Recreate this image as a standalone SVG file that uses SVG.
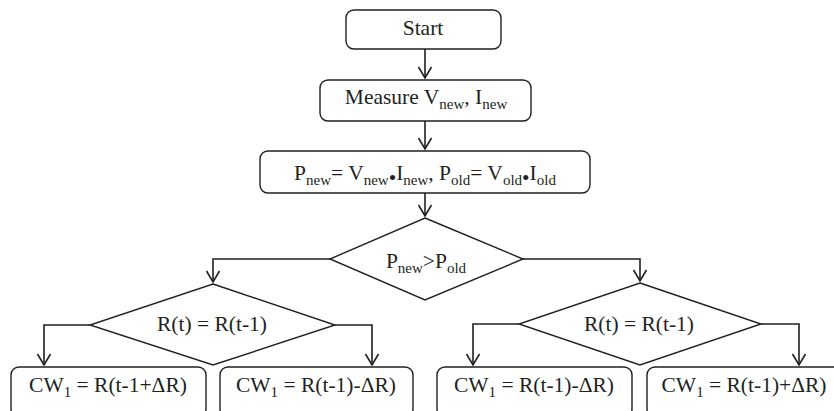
<svg xmlns="http://www.w3.org/2000/svg" width="834" height="411" viewBox="0 0 834 411">
<defs>
<style>
.box{fill:#fff;stroke:#231f20;stroke-width:1.4}
.dia{fill:#fff;stroke:#231f20;stroke-width:1.4}
.con{fill:none;stroke:#231f20;stroke-width:1.6;marker-end:url(#arr)}
text{font-family:"Liberation Serif","Times New Roman",serif;font-size:21.5px;fill:#231f20;text-anchor:middle}
.s{font-size:15px}
</style>
<marker id="arr" markerUnits="userSpaceOnUse" markerWidth="14" markerHeight="16" viewBox="-12 -8 14 16" refX="0" refY="0" orient="auto">
<path d="M-11,-6.5 L0,0 L-11,6.5" fill="none" stroke="#231f20" stroke-width="1.6"/>
</marker>
</defs>
<rect width="834" height="411" fill="#fff"/>
<g id="connectors">
<path class="con" d="M425,49 V78"/>
<path class="con" d="M425,121 V149"/>
<path class="con" d="M425,193 V216"/>
<path class="con" d="M330,259 H213 V282"/>
<path class="con" d="M523,259 H640 V281"/>
<path class="con" d="M90,325 H44 V365"/>
<path class="con" d="M335,325 H372 V365"/>
<path class="con" d="M519,324 H473 V365"/>
<path class="con" d="M761,324 H799 V365"/>
</g>
<g id="start">
<rect class="box" x="346" y="10" width="155" height="39" rx="8"/>
<text x="423" y="35">Start</text>
</g>
<g id="measure">
<rect class="box" x="320" y="80" width="211" height="41" rx="8"/>
<text x="426" y="104">Measure V<tspan class="s" dy="5">new</tspan><tspan dy="-5">, I</tspan><tspan class="s" dy="5">new</tspan></text>
</g>
<g id="power">
<rect class="box" x="260" y="151" width="330" height="42" rx="8"/>
<text x="425" y="180">P<tspan class="s" dy="5">new</tspan><tspan dy="-5">= V</tspan><tspan class="s" dy="5">new</tspan><tspan dy="0">•</tspan><tspan dy="-5">I</tspan><tspan class="s" dy="5">new</tspan><tspan dy="-5">, P</tspan><tspan class="s" dy="5">old</tspan><tspan dy="-5">= V</tspan><tspan class="s" dy="5">old</tspan><tspan dy="0">•</tspan><tspan dy="-5">I</tspan><tspan class="s" dy="5">old</tspan></text>
</g>
<g id="compare">
<polygon class="dia" points="425,218 523,259 425,300 330,259"/>
<text x="426" y="268">P<tspan class="s" dy="5">new</tspan><tspan dy="-5">&gt;P</tspan><tspan class="s" dy="5">old</tspan></text>
</g>
<g id="decision-left">
<polygon class="dia" points="213,284 335,325 213,365 90,325"/>
<text x="212" y="331">R(t) = R(t-1)</text>
</g>
<g id="decision-right">
<polygon class="dia" points="640,283 761,324 640,365 519,324"/>
<text x="639" y="331">R(t) = R(t-1)</text>
</g>
<g id="cw1">
<rect class="box" x="11" y="367" width="195" height="50" rx="8"/>
<text x="108" y="392">CW<tspan class="s" dy="5">1</tspan><tspan dy="-5"> = R(t-1+ΔR)</tspan></text>
</g>
<g id="cw2">
<rect class="box" x="220" y="367" width="193" height="50" rx="8"/>
<text x="316" y="392">CW<tspan class="s" dy="5">1</tspan><tspan dy="-5"> = R(t-1)-ΔR)</tspan></text>
</g>
<g id="cw3">
<rect class="box" x="437" y="367" width="195" height="50" rx="8"/>
<text x="534" y="392">CW<tspan class="s" dy="5">1</tspan><tspan dy="-5"> = R(t-1)-ΔR)</tspan></text>
</g>
<g id="cw4">
<rect class="box" x="647" y="367" width="195" height="50" rx="8"/>
<text x="744" y="392">CW<tspan class="s" dy="5">1</tspan><tspan dy="-5"> = R(t-1)+ΔR)</tspan></text>
</g>
</svg>
